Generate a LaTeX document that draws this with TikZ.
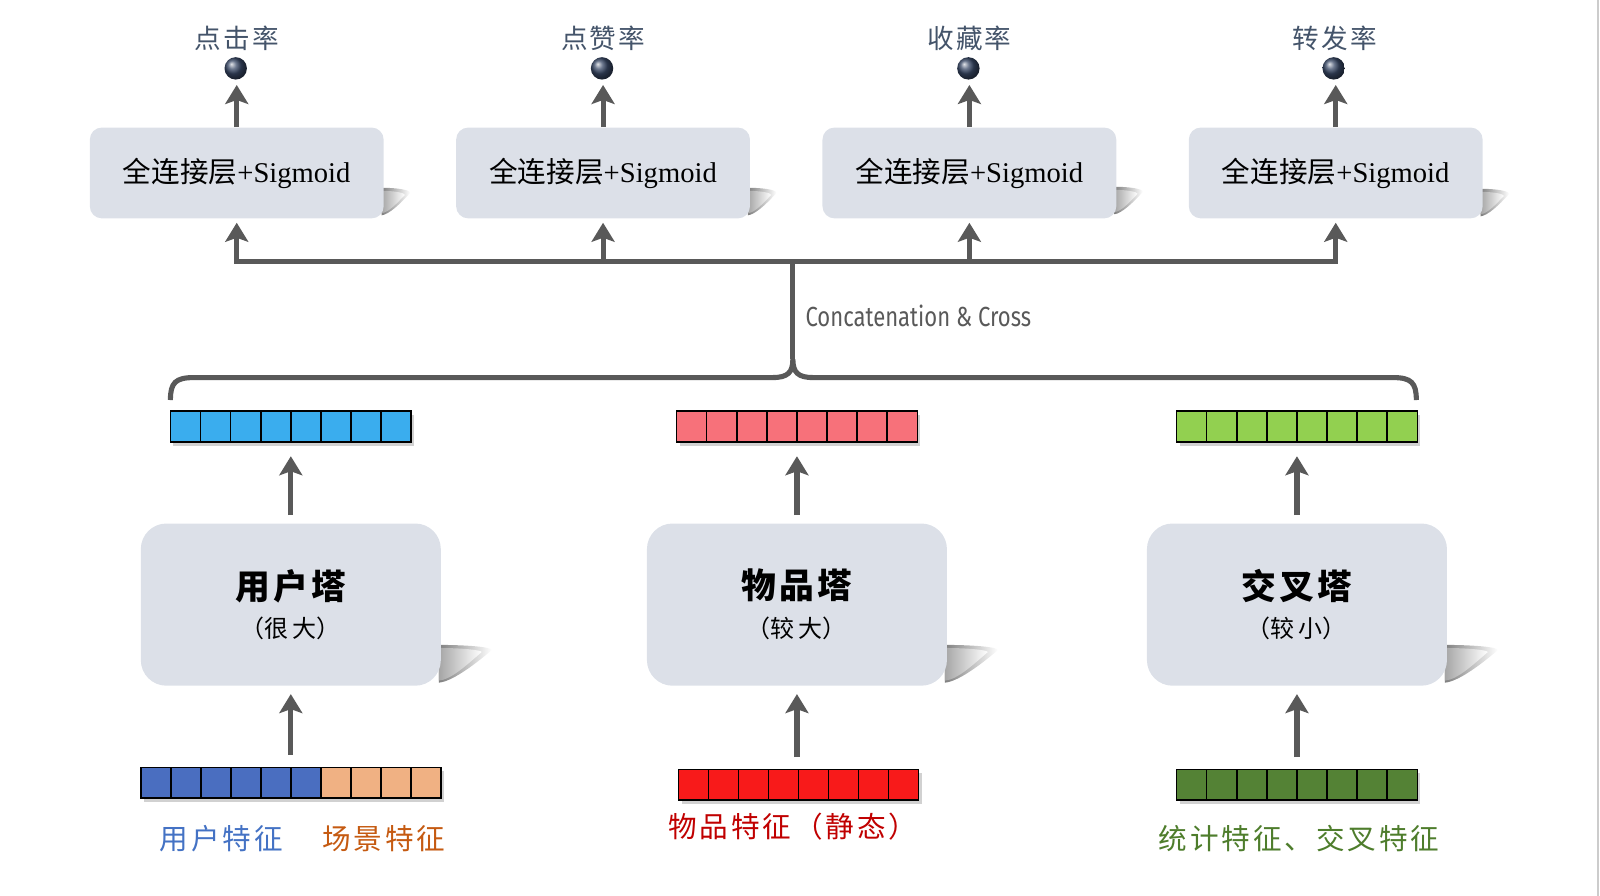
\documentclass[tikz,border=0pt]{standalone}
\usepackage{fontspec}
\setmainfont{Liberation Serif}
\newfontfamily\cjk{Noto Sans CJK SC}
\newfontfamily\condfont[FakeStretch=0.8]{Fira Sans}
\usetikzlibrary{arrows.meta}
\definecolor{boxc}{HTML}{DCE0E8}
\definecolor{arrc}{HTML}{595959}
\definecolor{labc}{HTML}{44546A}
\definecolor{ballc}{HTML}{3A4A68}
\definecolor{cblue}{HTML}{3AADEE}
\definecolor{cpink}{HTML}{F7717A}
\definecolor{clgreen}{HTML}{92D050}
\definecolor{cdblue}{HTML}{4A6EC0}
\definecolor{corange}{HTML}{F0B183}
\definecolor{cred}{HTML}{F81A1A}
\definecolor{cdgreen}{HTML}{548235}
\definecolor{tblue}{HTML}{4472C4}
\definecolor{torange}{HTML}{C55A11}
\definecolor{tred}{HTML}{C00000}
\definecolor{tgreen}{HTML}{4E7D2C}
\newcommand\cellrow[6]{%
  \fill[black,opacity=0.18] (#2+3,#3-11) rectangle ++(#4*#5,30);
  \foreach \i in {1,...,#4} {\draw[cell,fill=#6] (#2+#5*\i-#5,#3-15) rectangle ++(#5,30);}
  \node[inner sep=0,minimum width={#4*#5*0.5102pt},minimum height=15.3pt] (#1) at (#2+#4*#5/2,#3) {};
}
\newcommand\castshadow[4]{%
  \shade[left color=black!50,right color=white]
    (#1-2,#2-#4) .. controls (#1+#3*0.5,#2-#4) and (#1+#3,#2-#4+2) .. (#1+#3,#2-#4+5)
    .. controls (#1+#3*0.6,#2-#4*0.45) and (#1+#3*0.2,#2-4) .. (#1-2,#2-3) -- cycle;
  \shade[left color=black!35,right color=white]
    (#1-2,#2-#4+3) .. controls (#1+#3*0.4,#2-#4+3) and (#1+#3*0.8,#2-#4+5) .. (#1+#3*0.8,#2-#4+7)
    .. controls (#1+#3*0.5,#2-#4*0.5) and (#1+#3*0.2,#2-6) .. (#1-2,#2-5) -- cycle;
}
\begin{document}
\begin{tikzpicture}[x=0.5102pt,y=-0.5102pt,
  fcbox/.style={fill=boxc,rounded corners=6pt,minimum width=146.9pt,minimum height=45.4pt,inner sep=0,font=\fontsize{14.3pt}{16pt}\selectfont},
  tower/.style={fill=boxc,rounded corners=12.8pt,minimum width=150pt,minimum height=81.1pt,inner sep=0,align=center,font=\cjk\fontsize{12pt}{19.4pt}\selectfont},
  ball/.style={circle,minimum size=11.2pt,inner sep=0,ball color=ballc},
  outlab/.style={font=\cjk\fontsize{13.3pt}{15pt}\selectfont\addfontfeature{LetterSpace=8},text=labc},
  arr/.style={draw=arrc,line width=2.55pt,-{Stealth[length=9.5pt,width=11.5pt,inset=2pt]}},
  bus/.style={draw=arrc,line width=2.55pt},
  cell/.style={draw=black,line width=0.8pt},
  feat/.style={font=\cjk\fontsize{14.3pt}{16pt}\selectfont\addfontfeature{LetterSpace=10}}]
\useasboundingbox (0,0) rectangle (1568,878);
\draw[black!20,line width=0.8pt] (1566,0) -- (1566,878);

% shadows of boxes
\foreach \xr/\yb in {376/214,735/214,1094/213,1453/215} {\castshadow{\xr}{\yb}{26}{30}}
\foreach \xr in {432,928,1418} {\castshadow{\xr}{672}{50}{40}}

% output heads
\foreach \k/\x in {1/232,2/591,3/950,4/1309} {
  \node[fcbox] (fc\k) at (\x,169.5) {{\cjk 全连接层}+Sigmoid};
}
\foreach \k/\x/\t in {1/231/点击率,2/590/点赞率,3/949/收藏率,4/1307/转发率} {
  \node[ball] (b\k) at (\x,67) {};
  \node[outlab] (o\k) at (\x+1,38) {\t};
}
\foreach \k in {1,...,4} {
  \draw[arr,shorten >=2.5pt] (fc\k.north) -- (fc\k.north |- b\k.south);
}

% bus
\foreach \k/\x in {1/232,2/591,3/950,4/1309} {\coordinate (bus\k) at (\x,256);}
\coordinate (busc) at (777,256);
\coordinate (tip) at (777,352);
\draw[bus,line cap=rect] (bus1) -- (bus4);
\foreach \k in {1,...,4} {\draw[arr,shorten >=2pt] (bus\k) -- (fc\k.south);}
\draw[bus] (busc) -- (tip);
\draw[bus] (167,392) .. controls (167,375) and (172,370) .. (190,370) -- (757,370)
  .. controls (772,370) and (777,365) .. (tip)
  .. controls (777,365) and (782,370) .. (797,370) -- (1365,370)
  .. controls (1383,370) and (1388,375) .. (1388,392);
\node[anchor=west,inner sep=0,text=arrc,font=\condfont\fontsize{13.8pt}{16pt}\selectfont] (cc) at (789,310) {Concatenation \& Cross};

% tower outputs
\cellrow{v1}{167}{418}{8}{29.5}{cblue}
\cellrow{v2}{663}{418}{8}{29.5}{cpink}
\cellrow{v3}{1153}{418}{8}{29.5}{clgreen}

% towers
\node[tower] (t1) at (285,592.5) {{\fontsize{17.4pt}{19.4pt}\selectfont\bfseries\addfontfeature{LetterSpace=8}用户塔}\\{（很\,大）}};
\node[tower] (t2) at (781,592.5) {{\fontsize{17.4pt}{19.4pt}\selectfont\bfseries\addfontfeature{LetterSpace=8}物品塔}\\{（较\,大）}};
\node[tower] (t3) at (1271,592.5) {{\fontsize{17.4pt}{19.4pt}\selectfont\bfseries\addfontfeature{LetterSpace=8}交叉塔}\\{（较\,小）}};

% input features
\fill[black,opacity=0.18] (141,756) rectangle (435,786);
\foreach \i in {1,...,6} {\draw[cell,fill=cdblue] (138+29.4*\i-29.4,752) rectangle ++(29.4,30);}
\foreach \i in {7,...,10} {\draw[cell,fill=corange] (138+29.4*\i-29.4,752) rectangle ++(29.4,30);}
\node[inner sep=0,minimum width=150pt,minimum height=15.3pt] (i1) at (285,767) {};
\cellrow{i2}{665}{769}{8}{29.4}{cred}
\cellrow{i3}{1153}{769}{8}{29.5}{cdgreen}

\node[feat,text=tblue] (l1a) at (217,822) {用户特征};
\node[feat,text=torange] (l1b) at (376,822) {场景特征};
\node[feat,text=tred] (l2) at (777,810) {物品特征（静态）};
\node[feat,text=tgreen] (l3) at (1273,822) {统计特征、交叉特征};

% arrows
\foreach \k in {1,2,3} {
  \draw[arr,shorten <=4pt,shorten >=7pt] (t\k.north) -- (v\k.south);
  \draw[arr,shorten <=6pt,shorten >=4pt] (t\k.south |- i\k.north) -- (t\k.south);
}
\end{tikzpicture}
\end{document}
